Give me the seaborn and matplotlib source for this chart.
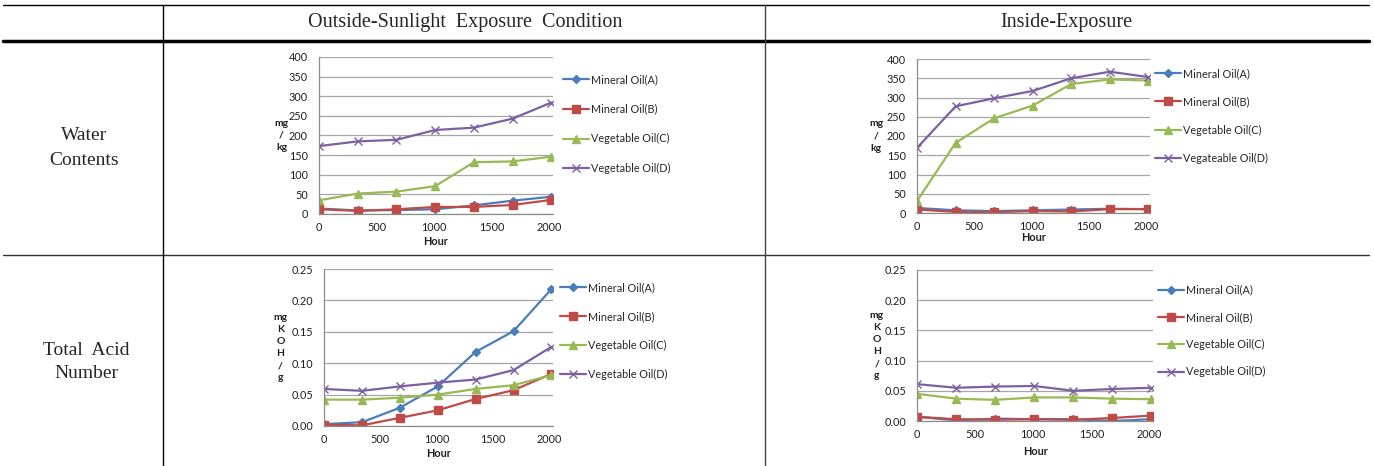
import numpy as np
import pandas as pd
import seaborn as sns
import matplotlib.pyplot as plt
from matplotlib.ticker import FormatStrFormatter

# Sampling hours (every two weeks)
hours = [0, 336, 672, 1008, 1344, 1680, 2016]

# Water contents (mg/kg)
water_out_A = [14, 9, 10, 12, 22, 34, 44]
water_out_B = [12, 8, 12, 18, 18, 23, 36]
water_out_C = [35, 52, 57, 71, 132, 134, 146]
water_out_D = [173, 185, 189, 214, 220, 243, 284]

water_in_A = [13, 7, 5, 7, 9, 11, 10]
water_in_B = [9, 3, 2, 5, 4, 10, 10]
water_in_C = [31, 182, 246, 279, 335, 347, 344]
water_in_D = [169, 277, 298, 317, 350, 367, 353]

# Total acid number (mgKOH/g)
tan_out_A = [0.003, 0.006, 0.029, 0.063, 0.118, 0.151, 0.218]
tan_out_B = [0.002, 0.001, 0.013, 0.025, 0.043, 0.057, 0.083]
tan_out_C = [0.042, 0.042, 0.045, 0.050, 0.059, 0.065, 0.081]
tan_out_D = [0.059, 0.056, 0.063, 0.069, 0.074, 0.089, 0.126]

tan_in_A = [0.007, 0.001, 0.004, 0.003, 0.003, 0.000, 0.003]
tan_in_B = [0.007, 0.003, 0.002, 0.003, 0.002, 0.005, 0.009]
tan_in_C = [0.045, 0.037, 0.035, 0.039, 0.039, 0.037, 0.036]
tan_in_D = [0.061, 0.055, 0.057, 0.058, 0.050, 0.053, 0.055]

labels_std = ['Mineral Oil(A)', 'Mineral Oil(B)', 'Vegetable Oil(C)', 'Vegetable Oil(D)']
labels_typo = ['Mineral Oil(A)', 'Mineral Oil(B)', 'Vegetable Oil(C)', 'Vegateable Oil(D)']

col_headers = ['Outside-Sunlight  Exposure  Condition', 'Inside-Exposure']
row_headers = ['Water\nContents', 'Total  Acid\nNumber']

colors = ['#4A7EBB', '#BE4B48', '#98B954', '#7D60A0']
markers = ['D', 's', '^', 'x']
msizes = [4, 5.5, 5.5, 6]

sns.set_theme(style='white')
plt.rcParams['font.family'] = ['Lato', 'DejaVu Sans']

W, H = 1374, 466
fig = plt.figure(figsize=(W / 100, H / 100), dpi=100)

# background axes in pixel coordinates for the table grid
bg = fig.add_axes([0, 0, 1, 1])
bg.set_xlim(0, W)
bg.set_ylim(H, 0)
bg.axis('off')
bg.plot([3, 1369], [5, 5], color='black', lw=1)
bg.plot([3, 1369], [41, 41], color='black', lw=2.5)
bg.plot([3, 1369], [255, 255], color='#333333', lw=1)
bg.plot([163, 163], [5, H], color='black', lw=1)
bg.plot([765, 765], [5, H], color='#444444', lw=1)

serif = 'Liberation Serif'
bg.text(465, 23, col_headers[0], ha='center', va='center', fontsize=14.5, family=serif)
bg.text(1066, 23, col_headers[1], ha='center', va='center', fontsize=14.5, family=serif)
bg.text(84, 148, row_headers[0], ha='center', va='center', fontsize=14, family=serif, linespacing=1.55)
bg.text(86, 362, row_headers[1], ha='center', va='center', fontsize=14, family=serif, linespacing=1.5)


def px_rect(l, t, r, b):
    return [l / W, (H - b) / H, (r - l) / W, (b - t) / H]


def draw_panel(rect, series, labels, ylim, ystep, fmt, ylabel, ylabel_x, leg_xy, leg_space, xpad):
    ax = fig.add_axes(px_rect(*rect))
    df = pd.DataFrame({
        'Hour': np.tile(hours, 4),
        'value': np.concatenate(series),
        'oil': np.repeat(labels, len(hours)),
    })
    sns.lineplot(data=df, x='Hour', y='value', hue='oil', style='oil',
                 palette=colors, markers=True, dashes=False,
                 lw=1.6, legend=False, ax=ax)
    lines = [ln for ln in ax.lines if len(ln.get_xdata()) > 0]
    for ln, c, m, s in zip(lines, colors, markers, msizes):
        ln.set_marker(m)
        ln.set_markersize(s)
        ln.set_markerfacecolor(c)
        ln.set_markeredgecolor(c)
        ln.set_markeredgewidth(1.0)
    ax.set_xlim(0, 2030)
    ax.set_ylim(*ylim)
    ax.set_xticks([0, 500, 1000, 1500, 2000])
    ax.set_yticks(np.arange(ylim[0], ylim[1] + ystep / 2, ystep))
    ax.yaxis.set_major_formatter(FormatStrFormatter(fmt))
    ax.grid(axis='y', color='#A6A6A6', lw=0.9)
    ax.grid(axis='x', visible=False)
    for side in ['top', 'right']:
        ax.spines[side].set_visible(False)
    for side in ['left', 'bottom']:
        ax.spines[side].set_color('#8C8C8C')
        ax.spines[side].set_linewidth(0.9)
    ax.tick_params(axis='both', labelsize=7.8, labelcolor='#1f1f1f', length=0)
    ax.tick_params(axis='y', pad=8)
    ax.tick_params(axis='x', pad=6)
    ax.set_xlabel('Hour', fontsize=7.8, fontweight='bold', labelpad=xpad, color='#1f1f1f')
    ax.set_ylabel(ylabel, rotation=0, fontsize=7.5, fontweight='bold', linespacing=1.45,
                  va='center', ha='center', color='#1f1f1f')
    ax.yaxis.set_label_coords(ylabel_x, 0.5)
    ax.legend(lines, labels, loc='center left', bbox_to_anchor=leg_xy,
              bbox_transform=bg.transData, frameon=False, fontsize=7.8,
              handlelength=2.4, handletextpad=0.15, labelspacing=leg_space,
              borderpad=0, borderaxespad=0)
    return ax


draw_panel((319, 57, 553, 214), [water_out_A, water_out_B, water_out_C, water_out_D],
           labels_std, (0, 400), 50, '%d', 'mg\n/\nkg', -0.16, (563, 124), 1.72, 2)
draw_panel((917, 59, 1150, 213), [water_in_A, water_in_B, water_in_C, water_in_D],
           labels_typo, (0, 400), 50, '%d', 'mg\n/\nkg', -0.175, (1155, 116), 1.6, 0)
draw_panel((324, 269, 553, 426), [tan_out_A, tan_out_B, tan_out_C, tan_out_D],
           labels_std, (0, 0.25), 0.05, '%.2f', 'mg\nK\nO\nH\n/\ng', -0.19, (560, 331), 1.65, 2)
draw_panel((917, 270, 1153, 421), [tan_in_A, tan_in_B, tan_in_C, tan_in_D],
           labels_std, (0, 0.25), 0.05, '%.2f', 'mg\nK\nO\nH\n/\ng', -0.17, (1158, 331), 1.5, 4)

plt.savefig('out.png', dpi=100)
